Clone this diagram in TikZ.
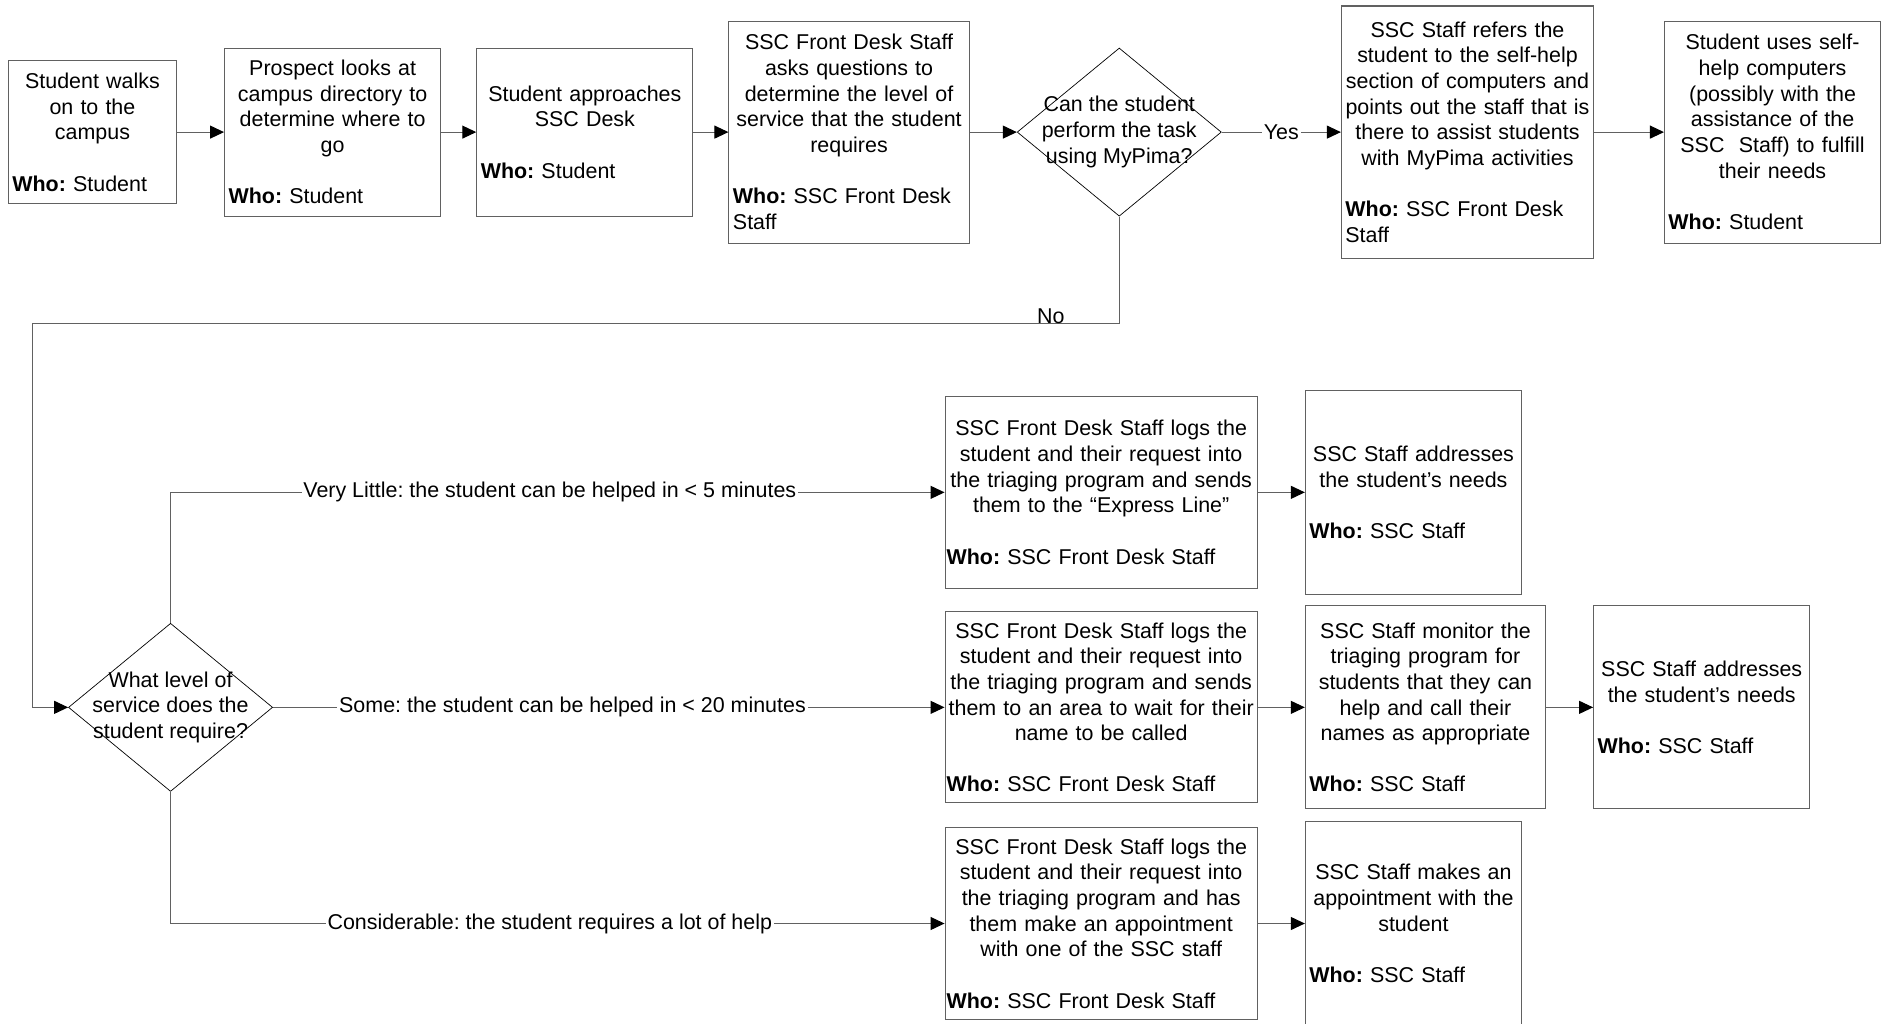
\documentclass[tikz,border=0pt]{standalone}
\usepackage{fontspec}
\setmainfont{Liberation Sans}
\usetikzlibrary{shapes.geometric,arrows.meta}
\definecolor{linegray}{gray}{0.38}
\newcommand{\steptext}[2]{\centering #1\par\vspace{\baselineskip}\raggedright\textbf{Who:} #2}

\begin{document}
\begin{tikzpicture}[font=\fontsize{12.2}{14.6}\selectfont\frenchspacing]
    % Styles for boxes and lines
    \tikzstyle{stepbox} = [rectangle, draw=linegray, line width=0.6pt, inner xsep=0.08cm, inner ysep=0.1cm]
    \tikzstyle{widebox} = [stepbox, inner xsep=0.03cm, minimum width=6.245cm, text width=6.185cm]
    \tikzstyle{decision} = [diamond, draw=black, line width=0.4pt, inner sep=0pt, minimum width=4.083cm, minimum height=3.363cm]
    \tikzstyle{arrow} = [draw=linegray, line width=0.6pt, -{Triangle[length=0.28cm,width=0.26cm,color=black]}]
    \tikzstyle{lbl} = [fill=white, inner sep=1pt]

    \useasboundingbox (0,0) rectangle (37.66,-20.46);

  % Top row
    \node[stepbox, minimum width=3.363cm, minimum height=2.858cm, text width=3.203cm] (walks) at (1.849,-2.642) {\steptext{Student walks\\on to the\\campus}{Student}};
    \node[stepbox, minimum width=4.323cm, minimum height=3.363cm, text width=4.163cm] (prospect) at (6.653,-2.642) {\steptext{Prospect looks at\\campus directory to\\determine where to\\go}{Student}};
    \node[stepbox, minimum width=4.323cm, minimum height=3.363cm, text width=4.163cm] (approach) at (11.697,-2.642) {\steptext{Student approaches\\SSC Desk}{Student}};
    \node[stepbox, minimum width=4.804cm, minimum height=4.443cm, text width=4.644cm] (askq) at (16.981,-2.642) {\steptext{SSC Front Desk Staff\\asks questions to\\determine the level of\\service that the student\\requires}{SSC Front Desk\\Staff}};
    \node[decision, label={[align=center]center:Can the student\\perform the task\\using MyPima?}] (canuse) at (22.385,-2.642) {};
    \node[stepbox, minimum width=5.044cm, minimum height=5.044cm, text width=4.884cm] (refer) at (29.350,-2.642) {\steptext{SSC Staff refers the\\student to the self-help\\section of computers and\\points out the staff that is\\there to assist students\\with MyPima activities}{SSC Front Desk\\Staff}};
    \node[stepbox, minimum width=4.323cm, minimum height=4.443cm, text width=4.163cm] (selfhelp) at (35.451,-2.642) {\steptext{Student uses self-\\help computers\\(possibly with the\\assistance of the\\SSC~~Staff) to fulfill\\their needs}{Student}};

  % Level of service
    \node[decision, label={[align=center]center:What level of\\service does the\\student require?}] (level) at (3.411,-14.147) {};

    \node[widebox, minimum height=3.843cm] (express) at (22.024,-9.847) {\steptext{SSC Front Desk Staff logs the\\student and their request into\\the triaging program and sends\\them to the “Express Line”}{SSC Front Desk Staff}};
    \node[stepbox, minimum width=4.323cm, minimum height=4.083cm, text width=4.163cm] (addrA) at (28.269,-9.847) {\steptext{SSC Staff addresses\\the student’s needs}{SSC Staff}};

    \node[widebox, minimum height=3.819cm] (waitarea) at (22.024,-14.147) {\steptext{SSC Front Desk Staff logs the\\student and their request into\\the triaging program and sends\\them to an area to wait for their\\name to be called}{SSC Front Desk Staff}};
    \node[stepbox, minimum width=4.804cm, minimum height=4.059cm, text width=4.644cm] (monitor) at (28.509,-14.147) {\steptext{SSC Staff monitor the\\triaging program for\\students that they can\\help and call their\\names as appropriate}{SSC Staff}};
    \node[stepbox, minimum width=4.323cm, minimum height=4.059cm, text width=4.163cm] (addrB) at (34.034,-14.147) {\steptext{SSC Staff addresses\\the student’s needs}{SSC Staff}};

    \node[widebox, minimum height=3.843cm] (appoint) at (22.024,-18.470) {\steptext{SSC Front Desk Staff logs the\\student and their request into\\the triaging program and has\\them make an appointment\\with one of the SSC staff}{SSC Front Desk Staff}};
    \node[stepbox, minimum width=4.323cm, minimum height=4.083cm, text width=4.163cm] (makeappt) at (28.269,-18.470) {\steptext{SSC Staff makes an\\appointment with the\\student}{SSC Staff}};

    \coordinate (nobend) at (0.648,-6.461);

  % Arrows
    \draw[arrow] (walks.east) -- (prospect.west);
    \draw[arrow] (prospect.east) -- (approach.west);
    \draw[arrow] (approach.east) -- (askq.west);
    \draw[arrow] (askq.east) -- (canuse.west);
    \draw[arrow] (canuse.east) -- node[lbl] {Yes} (refer.west);
    \draw[arrow] (refer.east) -- (selfhelp.west);
    \draw[arrow] (canuse.south) -- (canuse.south |- nobend) -- node[pos=0.063, anchor=base, inner sep=0pt] {No} (nobend) |- (level.west);

    \draw[arrow] (level.north) -- (level.north |- express.west) -- node[lbl, pos=0.49] {Very Little: the student can be helped in < 5 minutes} (express.west);
    \draw[arrow] (level.east) -- node[lbl, pos=0.446] {Some: the student can be helped in < 20 minutes} (waitarea.west);
    \draw[arrow] (level.south) -- (level.south |- appoint.west) -- node[lbl, pos=0.49] {Considerable: the student requires a lot of help} (appoint.west);

    \draw[arrow] (express.east) -- (addrA.west);
    \draw[arrow] (waitarea.east) -- (monitor.west);
    \draw[arrow] (monitor.east) -- (addrB.west);
    \draw[arrow] (appoint.east) -- (makeappt.west);

\end{tikzpicture}
\end{document}
